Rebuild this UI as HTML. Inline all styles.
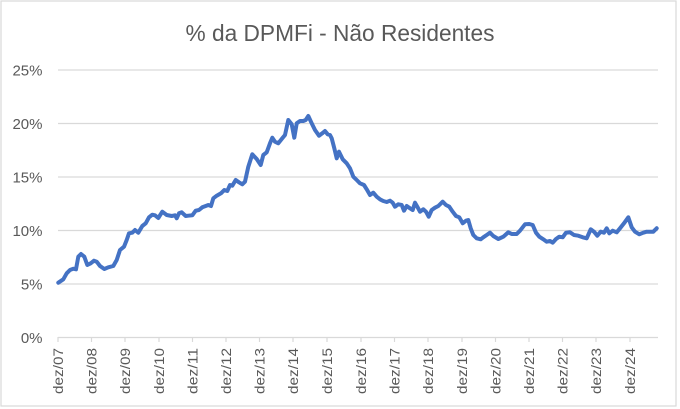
<!DOCTYPE html>
<html>
<head>
<meta charset="utf-8">
<style>
html,body{margin:0;padding:0;background:#fff;}
svg{display:block;}
text{font-family:"Liberation Sans",Arial,sans-serif;fill:#595959;}
</style>
</head>
<body>
<svg width="680" height="409" viewBox="0 0 680 409" xmlns="http://www.w3.org/2000/svg">
<rect x="0" y="0" width="680" height="409" fill="#fff"/>
<rect x="1" y="1" width="675" height="405" fill="#fff" stroke="#d9d9d9" stroke-width="1.2"/>
<text x="340" y="41" text-anchor="middle" font-size="22.7">% da DPMFi - Não Residentes</text>
<g stroke="#d9d9d9" stroke-width="1.2">
<line x1="58" y1="70" x2="658" y2="70"/>
<line x1="58" y1="123.5" x2="658" y2="123.5"/>
<line x1="58" y1="177" x2="658" y2="177"/>
<line x1="58" y1="230.5" x2="658" y2="230.5"/>
<line x1="58" y1="284" x2="658" y2="284"/>
<line x1="58" y1="337.5" x2="658" y2="337.5"/>
<line x1="58" y1="337" x2="58" y2="342"/>
<line x1="91.5" y1="337" x2="91.5" y2="342"/>
<line x1="125" y1="337" x2="125" y2="342"/>
<line x1="159" y1="337" x2="159" y2="342"/>
<line x1="192.5" y1="337" x2="192.5" y2="342"/>
<line x1="226" y1="337" x2="226" y2="342"/>
<line x1="259.5" y1="337" x2="259.5" y2="342"/>
<line x1="293" y1="337" x2="293" y2="342"/>
<line x1="327" y1="337" x2="327" y2="342"/>
<line x1="361" y1="337" x2="361" y2="342"/>
<line x1="394.5" y1="337" x2="394.5" y2="342"/>
<line x1="428" y1="337" x2="428" y2="342"/>
<line x1="462" y1="337" x2="462" y2="342"/>
<line x1="495.5" y1="337" x2="495.5" y2="342"/>
<line x1="529" y1="337" x2="529" y2="342"/>
<line x1="562.5" y1="337" x2="562.5" y2="342"/>
<line x1="596" y1="337" x2="596" y2="342"/>
<line x1="630" y1="337" x2="630" y2="342"/>
</g>
<g font-size="15" text-anchor="end">
<text x="42.5" y="75.5">25%</text>
<text x="42.5" y="129">20%</text>
<text x="42.5" y="182.5">15%</text>
<text x="42.5" y="236">10%</text>
<text x="42.5" y="289.5">5%</text>
<text x="42.5" y="343">0%</text>
</g>
<g font-size="13.5" text-anchor="end">
<text transform="translate(62.8,348) rotate(-90)" textLength="46" lengthAdjust="spacingAndGlyphs">dez/07</text>
<text transform="translate(96.3,348) rotate(-90)" textLength="46" lengthAdjust="spacingAndGlyphs">dez/08</text>
<text transform="translate(129.8,348) rotate(-90)" textLength="46" lengthAdjust="spacingAndGlyphs">dez/09</text>
<text transform="translate(163.8,348) rotate(-90)" textLength="46" lengthAdjust="spacingAndGlyphs">dez/10</text>
<text transform="translate(197.3,348) rotate(-90)" textLength="46" lengthAdjust="spacingAndGlyphs">dez/11</text>
<text transform="translate(230.8,348) rotate(-90)" textLength="46" lengthAdjust="spacingAndGlyphs">dez/12</text>
<text transform="translate(264.3,348) rotate(-90)" textLength="46" lengthAdjust="spacingAndGlyphs">dez/13</text>
<text transform="translate(297.8,348) rotate(-90)" textLength="46" lengthAdjust="spacingAndGlyphs">dez/14</text>
<text transform="translate(331.8,348) rotate(-90)" textLength="46" lengthAdjust="spacingAndGlyphs">dez/15</text>
<text transform="translate(365.8,348) rotate(-90)" textLength="46" lengthAdjust="spacingAndGlyphs">dez/16</text>
<text transform="translate(399.3,348) rotate(-90)" textLength="46" lengthAdjust="spacingAndGlyphs">dez/17</text>
<text transform="translate(432.8,348) rotate(-90)" textLength="46" lengthAdjust="spacingAndGlyphs">dez/18</text>
<text transform="translate(466.8,348) rotate(-90)" textLength="46" lengthAdjust="spacingAndGlyphs">dez/19</text>
<text transform="translate(500.3,348) rotate(-90)" textLength="46" lengthAdjust="spacingAndGlyphs">dez/20</text>
<text transform="translate(533.8,348) rotate(-90)" textLength="46" lengthAdjust="spacingAndGlyphs">dez/21</text>
<text transform="translate(567.3,348) rotate(-90)" textLength="46" lengthAdjust="spacingAndGlyphs">dez/22</text>
<text transform="translate(600.8,348) rotate(-90)" textLength="46" lengthAdjust="spacingAndGlyphs">dez/23</text>
<text transform="translate(634.8,348) rotate(-90)" textLength="46" lengthAdjust="spacingAndGlyphs">dez/24</text>
</g>
<polyline fill="none" stroke="#4472C4" stroke-width="4" stroke-linejoin="round" stroke-linecap="round" points="
58.3,282.7 63.3,279.3 66.7,273.3 70,270 73.3,268.7 76,269.3 78.3,256.7 81,254 84.3,256.7 87.3,265 90.7,263.3 94,260.7 96.7,261.7 100,266 104.3,269 108.3,267.3 113.3,266 116.7,260 120,250 124,246.7 126.7,240 129,233.3 132.3,232.7 135,230 138.3,232.7 142.3,226 145.7,223.3 149,217.3 152.3,214.7 155,215.3 158.3,218 162.3,211.7 166.7,215 171.7,216 175,215.3 176.7,218.3 179,213.3 181.7,212.3 185.7,216 188.3,215.7 192.3,215.3 195.7,210.7 199,210 202.3,207.3 205.7,206
208.3,205 211,206 213.3,198.3 216.7,195.7 221,193.3 224.3,190 227.3,191 230,185 232.3,185.7 235.7,180 239,182.3 242.3,184.3 245,181.7 248.3,166.7 252.3,154.3 256.7,159 260.7,165 263.3,155 266.7,152.3 270,143.3 272.3,137.7 275,141.7 278.3,143.3 282.3,138.3 285,135 288.3,120 291.7,124.3 294.3,137.7 296.7,123.3 300,121 303.3,121 305.7,120 308.3,116 311.7,123.3 315,130 319,135.7 322.3,133.3 325,131 327.7,134.3 330,135 331.7,138.3 334.3,148.3 336.7,158.3 339,151.7
342.7,159.3 346.7,163.3 350,168.3 353.3,176.7 356.7,180 360,183.3 364,185 366.7,189.3 370,195 373.3,192.7 376.7,196.7 380,199.3 383.3,201 386.7,202 390,200.7 392.7,202.7 395,206.7 398.3,204.3 401.7,205 404,210.7 406.7,206 410,208.3 412.7,210 415,202.7 417.3,206.7 420,211.7 423.3,209.3 426,211.7 428.7,216.7 431.7,210 435,207.7 438.3,206 442.7,201.7 446,205 449.3,206.7 452.7,211.7 456,216 459.3,217.3 462.7,223.3 466,220.7 468.3,220 470.7,228.3 473.3,235 476.7,238.3 480.7,239.3 483.3,237.3 486.7,235
490,232.7 493.3,236 498.3,239 503.3,236.7 508.3,232.3 511.7,234 516.7,234 520,230.7 525,224.3 529.3,224 532.7,225 536,232.7 539.3,236.7 543.3,239.3 546.7,241.7 550,241 552.7,242.7 556,239 559.3,236.7 562.7,237.3 566,232.7 570,232.3 574,235 578.3,235.7 582.7,237.3 586.7,238.3 590.7,229.3 594,231.7 597.3,235.7 600.7,231.7 604,232.7 606.7,228.3 609.3,233.3 612.7,230.7 616.7,232.3 620,228.3 624,223.3 628.3,217.3 631.7,227.3 635,231.7 639.3,234.3 643.3,232.7 646.7,231.7 653.3,231.7 656.7,228.3"/>
</svg>
</body>
</html>
